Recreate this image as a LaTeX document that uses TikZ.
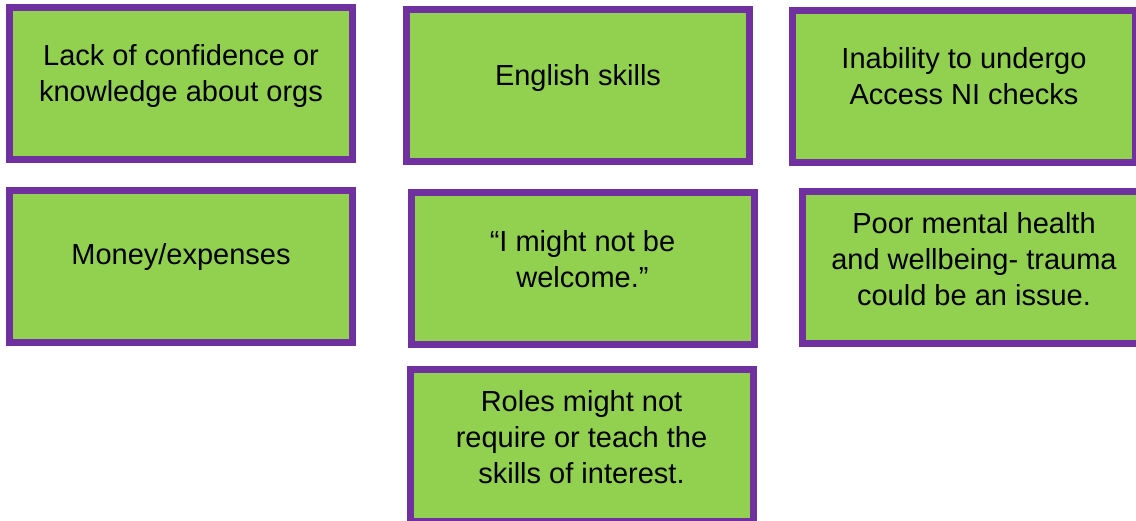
\documentclass[tikz,border=0pt]{standalone}
\usepackage{fontspec}
\setmainfont{Liberation Sans}
\usepackage{xcolor}
\usetikzlibrary{positioning}

\definecolor{barrierfill}{HTML}{92D050}
\definecolor{barrierline}{HTML}{7030A0}

\tikzset{
    barrier/.style={draw=barrierline, fill=barrierfill, line width=7pt,
                    minimum width=343pt, minimum height=152pt, inner sep=0pt},
    barriertext/.style={align=center, text=black, inner sep=0pt,
                        font=\fontsize{29}{36}\selectfont}
}

\begin{document}
\begin{tikzpicture}[x=1pt, y=-1pt]
                    \useasboundingbox (0,0) rectangle (1136,521);
                    % top row
                    \node[barrier] (confidence) at (181,83.5) {};
                    \node[barrier] (english) at (578,86) {};
                    \node[barrier] (accessni) at (964,86.5) {};
                    % middle row
                    \node[barrier] (money) at (181,267) {};
                    \node[barrier] (welcome) at (582.5,269) {};
                    \node[barrier] (wellbeing) at (974,267.5) {};
                    % bottom
                    \node[barrier] (roles) at (581.5,445.5) {};
                    % texts sit a little above the middle of each box
                    \node[barriertext] (confidencetext) at ([yshift=7pt]confidence.center) {Lack of confidence or\\knowledge about orgs};
                    \node[barriertext] (englishtext) at ([yshift=8pt]english.center) {English skills};
                    \node[barriertext] (accessnitext) at ([yshift=10pt]accessni.center) {Inability to undergo\\Access NI checks};
                    \node[barriertext] (moneytext) at ([yshift=10pt]money.center) {Money/expenses};
                    \node[barriertext] (welcometext) at ([yshift=10pt]welcome.center) {“I might not be\\welcome.”};
                    \node[barriertext] (wellbeingtext) at ([yshift=8pt]wellbeing.center) {Poor mental health\\and wellbeing- trauma\\could be an issue.};
                    \node[barriertext] (rolestext) at ([yshift=8pt]roles.center) {Roles might not\\require or teach the\\skills of interest.};
                \end{tikzpicture}
\end{document}
